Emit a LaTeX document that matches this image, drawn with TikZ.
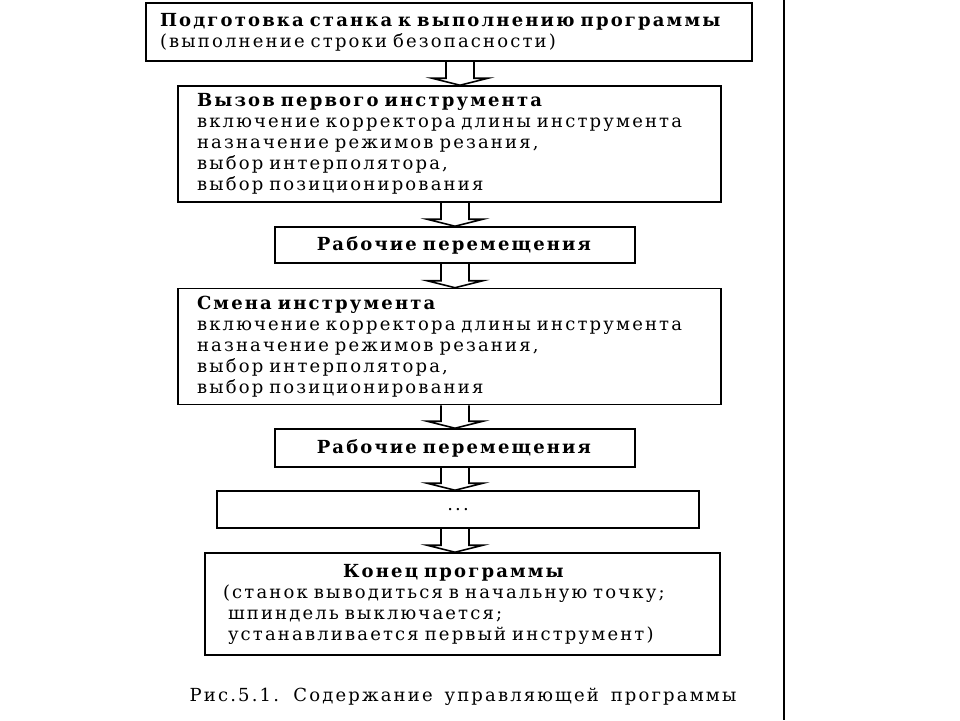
\documentclass[tikz,border=0pt]{standalone}
\usepackage{fontspec}
\setmainfont{DejaVu Serif}[LetterSpace=12, WordSpace=1.5]
\usepackage{tikz}
\usetikzlibrary{calc,positioning}

% hollow block arrow: from node, to node, x of the shaft
\newcommand{\blockarrow}[3]{%
  \draw[arrowline] let \p1=(#3,0 |- #1.south), \p2=(#3,0 |- #2.north) in
    (\x1-7pt,\y1) -- (\x1-7pt,\y2+3.5pt) -- (\x1-14pt,\y2+3.5pt) -- (\x2,\y2)
    -- (\x1+14pt,\y2+3.5pt) -- (\x1+7pt,\y2+3.5pt) -- (\x1+7pt,\y1);
}

\begin{document}
\begin{tikzpicture}[x=0.5pt, y=-0.5pt,
    box/.style={draw, line width=0.8pt, font=\fontsize{9}{10.5}\selectfont, inner ysep=0pt},
    listbox/.style={box, align=left, inner xsep=9.5pt, text width=252.5pt, minimum height=58pt},
    stagebox/.style={box, align=center, inner xsep=0pt, text width=180pt, minimum height=18pt},
    arrowline/.style={line width=0.8pt},
]
\useasboundingbox (0,0) rectangle (960,720);
\fill[white] (0,0) rectangle (960,720);

% boxes, top to bottom
\node[box, align=left, inner xsep=7pt, text width=289pt, minimum height=29pt] (prep) at (449,32)
  {\textbf{Подготовка станка к выполнению программы}\\(выполнение строки безопасности)};
\node[listbox] (first) at (449.5,144)
  {\textbf{Вызов первого инструмента}\\включение корректора длины инструмента\\назначение режимов резания,\\выбор интерполятора,\\выбор позиционирования};
\node[stagebox] (move1) at (455,245) {\textbf{Рабочие перемещения}};
\node[listbox] (change) at (449.5,346.5)
  {\textbf{Смена инструмента}\\включение корректора длины инструмента\\назначение режимов резания,\\выбор интерполятора,\\выбор позиционирования};
\node[stagebox, minimum height=19pt] (move2) at (455,448) {\textbf{Рабочие перемещения}};
\node[box, minimum width=241pt, minimum height=18.5pt] (dots) at (458,509.5) {...};
\node[box, align=left, inner xsep=9pt, text width=239.5pt, minimum height=51pt] (finish) at (462.5,604)
  {{\centering\hspace*{-8pt}\textbf{Конец программы}\par}
   (станок выводиться в начальную точку;\\
   \hspace*{2.5pt}шпиндель выключается;\\
   \hspace*{2.5pt}устанавливается первый инструмент)};

% arrows between the boxes
\blockarrow{prep}{first}{460}
\blockarrow{first}{move1}{455}
\blockarrow{move1}{change}{455}
\blockarrow{change}{move2}{455}
\blockarrow{move2}{dots}{455}
\blockarrow{dots}{finish}{455}

\node[font=\fontsize{9}{10}\selectfont] (caption) at (463,697) {Рис.5.1. Содержание управляющей программы};

% page edge on the right
\draw[line width=1pt] (784,0) -- (784,720);
\end{tikzpicture}
\end{document}
